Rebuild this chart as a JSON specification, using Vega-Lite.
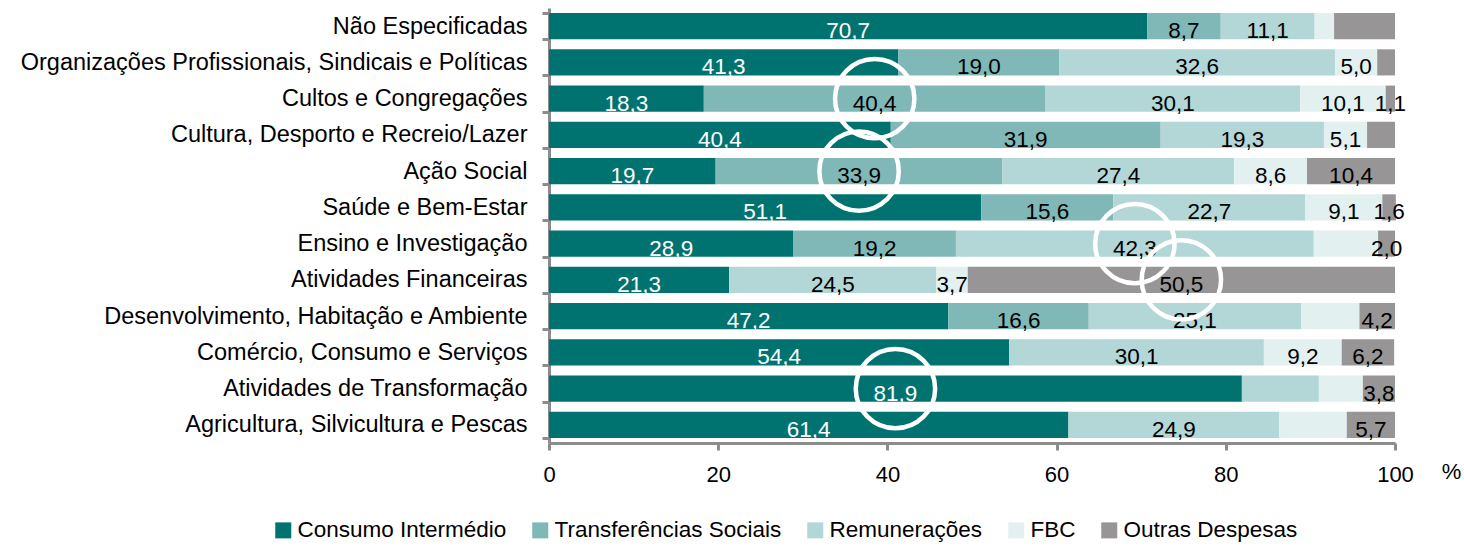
{
  "$schema": "https://vega.github.io/schema/vega-lite/v6.json",
  "width": 846,
  "height": 435,
  "autosize": {"type": "none"},
  "padding": {"left": 549, "top": 8, "right": 69, "bottom": 104},
  "background": "white",
  "config": {
    "view": {"stroke": null},
    "font": "Liberation Sans",
    "text": {"font": "Liberation Sans"}
  },
  "data": {
    "values": [
      {"setor": "Não Especificadas", "cat": "Consumo Intermédio", "valor": 70.7, "rotulo": "70,7", "destaque": false},
      {"setor": "Não Especificadas", "cat": "Transferências Sociais", "valor": 8.7, "rotulo": "8,7", "destaque": false},
      {"setor": "Não Especificadas", "cat": "Remunerações", "valor": 11.1, "rotulo": "11,1", "destaque": false},
      {"setor": "Não Especificadas", "cat": "FBC", "valor": 2.3, "rotulo": "", "destaque": false},
      {"setor": "Não Especificadas", "cat": "Outras Despesas", "valor": 7.2, "rotulo": "", "destaque": false},

      {"setor": "Organizações Profissionais, Sindicais e Políticas", "cat": "Consumo Intermédio", "valor": 41.3, "rotulo": "41,3", "destaque": false},
      {"setor": "Organizações Profissionais, Sindicais e Políticas", "cat": "Transferências Sociais", "valor": 19.0, "rotulo": "19,0", "destaque": false},
      {"setor": "Organizações Profissionais, Sindicais e Políticas", "cat": "Remunerações", "valor": 32.6, "rotulo": "32,6", "destaque": false},
      {"setor": "Organizações Profissionais, Sindicais e Políticas", "cat": "FBC", "valor": 5.0, "rotulo": "5,0", "destaque": false},
      {"setor": "Organizações Profissionais, Sindicais e Políticas", "cat": "Outras Despesas", "valor": 2.1, "rotulo": "", "destaque": false},

      {"setor": "Cultos e Congregações", "cat": "Consumo Intermédio", "valor": 18.3, "rotulo": "18,3", "destaque": false},
      {"setor": "Cultos e Congregações", "cat": "Transferências Sociais", "valor": 40.4, "rotulo": "40,4", "destaque": true},
      {"setor": "Cultos e Congregações", "cat": "Remunerações", "valor": 30.1, "rotulo": "30,1", "destaque": false},
      {"setor": "Cultos e Congregações", "cat": "FBC", "valor": 10.1, "rotulo": "10,1", "destaque": false},
      {"setor": "Cultos e Congregações", "cat": "Outras Despesas", "valor": 1.1, "rotulo": "1,1", "destaque": false},

      {"setor": "Cultura, Desporto e Recreio/Lazer ", "cat": "Consumo Intermédio", "valor": 40.4, "rotulo": "40,4", "destaque": false},
      {"setor": "Cultura, Desporto e Recreio/Lazer ", "cat": "Transferências Sociais", "valor": 31.9, "rotulo": "31,9", "destaque": false},
      {"setor": "Cultura, Desporto e Recreio/Lazer ", "cat": "Remunerações", "valor": 19.3, "rotulo": "19,3", "destaque": false},
      {"setor": "Cultura, Desporto e Recreio/Lazer ", "cat": "FBC", "valor": 5.1, "rotulo": "5,1", "destaque": false},
      {"setor": "Cultura, Desporto e Recreio/Lazer ", "cat": "Outras Despesas", "valor": 3.3, "rotulo": "", "destaque": false},

      {"setor": "Ação Social", "cat": "Consumo Intermédio", "valor": 19.7, "rotulo": "19,7", "destaque": false},
      {"setor": "Ação Social", "cat": "Transferências Sociais", "valor": 33.9, "rotulo": "33,9", "destaque": true},
      {"setor": "Ação Social", "cat": "Remunerações", "valor": 27.4, "rotulo": "27,4", "destaque": false},
      {"setor": "Ação Social", "cat": "FBC", "valor": 8.6, "rotulo": "8,6", "destaque": false},
      {"setor": "Ação Social", "cat": "Outras Despesas", "valor": 10.4, "rotulo": "10,4", "destaque": false},

      {"setor": "Saúde e Bem-Estar", "cat": "Consumo Intermédio", "valor": 51.1, "rotulo": "51,1", "destaque": false},
      {"setor": "Saúde e Bem-Estar", "cat": "Transferências Sociais", "valor": 15.6, "rotulo": "15,6", "destaque": false},
      {"setor": "Saúde e Bem-Estar", "cat": "Remunerações", "valor": 22.7, "rotulo": "22,7", "destaque": false},
      {"setor": "Saúde e Bem-Estar", "cat": "FBC", "valor": 9.1, "rotulo": "9,1", "destaque": false},
      {"setor": "Saúde e Bem-Estar", "cat": "Outras Despesas", "valor": 1.6, "rotulo": "1,6", "destaque": false},

      {"setor": "Ensino e Investigação", "cat": "Consumo Intermédio", "valor": 28.9, "rotulo": "28,9", "destaque": false},
      {"setor": "Ensino e Investigação", "cat": "Transferências Sociais", "valor": 19.2, "rotulo": "19,2", "destaque": false},
      {"setor": "Ensino e Investigação", "cat": "Remunerações", "valor": 42.3, "rotulo": "42,3", "destaque": true},
      {"setor": "Ensino e Investigação", "cat": "FBC", "valor": 7.6, "rotulo": "", "destaque": false},
      {"setor": "Ensino e Investigação", "cat": "Outras Despesas", "valor": 2.0, "rotulo": "2,0", "destaque": false},

      {"setor": "Atividades Financeiras", "cat": "Consumo Intermédio", "valor": 21.3, "rotulo": "21,3", "destaque": false},
      {"setor": "Atividades Financeiras", "cat": "Remunerações", "valor": 24.5, "rotulo": "24,5", "destaque": false},
      {"setor": "Atividades Financeiras", "cat": "FBC", "valor": 3.7, "rotulo": "3,7", "destaque": false},
      {"setor": "Atividades Financeiras", "cat": "Outras Despesas", "valor": 50.5, "rotulo": "50,5", "destaque": true},

      {"setor": "Desenvolvimento, Habitação e Ambiente", "cat": "Consumo Intermédio", "valor": 47.2, "rotulo": "47,2", "destaque": false},
      {"setor": "Desenvolvimento, Habitação e Ambiente", "cat": "Transferências Sociais", "valor": 16.6, "rotulo": "16,6", "destaque": false},
      {"setor": "Desenvolvimento, Habitação e Ambiente", "cat": "Remunerações", "valor": 25.1, "rotulo": "25,1", "destaque": false},
      {"setor": "Desenvolvimento, Habitação e Ambiente", "cat": "FBC", "valor": 6.9, "rotulo": "", "destaque": false},
      {"setor": "Desenvolvimento, Habitação e Ambiente", "cat": "Outras Despesas", "valor": 4.2, "rotulo": "4,2", "destaque": false},

      {"setor": "Comércio, Consumo e Serviços", "cat": "Consumo Intermédio", "valor": 54.4, "rotulo": "54,4", "destaque": false},
      {"setor": "Comércio, Consumo e Serviços", "cat": "Remunerações", "valor": 30.1, "rotulo": "30,1", "destaque": false},
      {"setor": "Comércio, Consumo e Serviços", "cat": "FBC", "valor": 9.2, "rotulo": "9,2", "destaque": false},
      {"setor": "Comércio, Consumo e Serviços", "cat": "Outras Despesas", "valor": 6.2, "rotulo": "6,2", "destaque": false},

      {"setor": "Atividades de Transformação", "cat": "Consumo Intermédio", "valor": 81.9, "rotulo": "81,9", "destaque": true},
      {"setor": "Atividades de Transformação", "cat": "Remunerações", "valor": 9.1, "rotulo": "", "destaque": false},
      {"setor": "Atividades de Transformação", "cat": "FBC", "valor": 5.2, "rotulo": "", "destaque": false},
      {"setor": "Atividades de Transformação", "cat": "Outras Despesas", "valor": 3.8, "rotulo": "3,8", "destaque": false},

      {"setor": "Agricultura, Silvicultura e Pescas", "cat": "Consumo Intermédio", "valor": 61.4, "rotulo": "61,4", "destaque": false},
      {"setor": "Agricultura, Silvicultura e Pescas", "cat": "Remunerações", "valor": 24.9, "rotulo": "24,9", "destaque": false},
      {"setor": "Agricultura, Silvicultura e Pescas", "cat": "FBC", "valor": 8.0, "rotulo": "", "destaque": false},
      {"setor": "Agricultura, Silvicultura e Pescas", "cat": "Outras Despesas", "valor": 5.7, "rotulo": "5,7", "destaque": false}
    ]
  },
  "transform": [
    {"calculate": "indexof(['Consumo Intermédio','Transferências Sociais','Remunerações','FBC','Outras Despesas'], datum.cat)", "as": "ordem"},
    {"stack": "valor", "groupby": ["setor"], "sort": [{"field": "ordem", "order": "ascending"}], "as": ["v0", "v1"]},
    {"calculate": "(datum.v0 + datum.v1) / 2", "as": "meio"}
  ],
  "encoding": {
    "y": {
      "field": "setor",
      "type": "nominal",
      "sort": null,
      "scale": {"paddingInner": 0.28, "paddingOuter": 0.14},
      "axis": {
        "title": null,
        "domainColor": "#8c8c8c",
        "domainWidth": 3,
        "tickColor": "#8c8c8c",
        "tickWidth": 3,
        "tickSize": 7,
        "tickBand": "extent",
        "labelFontSize": 23.5,
        "labelColor": "#000000",
        "labelPadding": 15,
        "labelLimit": 600,
        "labelFont": "Liberation Sans"
      }
    }
  },
  "layer": [
    {
      "mark": {"type": "bar", "stroke": null},
      "encoding": {
        "x": {
          "field": "v0",
          "type": "quantitative",
          "scale": {"domain": [0, 100], "nice": false},
          "axis": {
            "values": [0, 20, 40, 60, 80, 100],
            "grid": false,
            "labelFlush": false,
            "domainColor": "#8c8c8c",
            "domainWidth": 3,
            "tickColor": "#8c8c8c",
            "tickWidth": 3,
            "tickSize": 7,
            "labelFontSize": 22,
            "labelColor": "#000000",
            "labelPadding": 14,
            "labelFont": "Liberation Sans",
            "title": "%",
            "titleFontSize": 22,
            "titleFontWeight": "normal",
            "titleFont": "Liberation Sans",
            "titleColor": "#000000",
            "titleX": 902,
            "titleY": 28,
            "titleAlign": "center",
            "titleBaseline": "middle"
          }
        },
        "x2": {"field": "v1"},
        "color": {
          "field": "cat",
          "type": "nominal",
          "scale": {
            "domain": ["Consumo Intermédio", "Transferências Sociais", "Remunerações", "FBC", "Outras Despesas"],
            "range": ["#007370", "#80b8b8", "#b3d6d6", "#e3f0f0", "#979595"]
          },
          "legend": {
            "title": null,
            "orient": "none",
            "direction": "horizontal",
            "legendX": -277,
            "legendY": 511,
            "symbolType": "square",
            "symbolSize": 256,
            "symbolStrokeWidth": 0,
            "symbolOpacity": 1,
            "labelFontSize": 22.5,
            "labelFont": "Liberation Sans",
            "labelColor": "#000000",
            "labelOffset": 3,
            "columnPadding": 22,
            "labelLimit": 400
          }
        }
      }
    },
    {
      "mark": {"type": "text", "fontSize": 22.5, "baseline": "alphabetic", "dy": 12, "align": "center"},
      "encoding": {
        "x": {"field": "meio", "type": "quantitative"},
        "text": {"field": "rotulo"},
        "color": {
          "condition": {"test": "datum.cat === 'Consumo Intermédio'", "value": "#ffffff"},
          "value": "#000000"
        }
      }
    },
    {
      "transform": [{"filter": "datum.destaque"}],
      "mark": {"type": "point", "shape": "circle", "filled": false, "stroke": "#ffffff", "strokeWidth": 4.5, "size": 6300, "opacity": 1},
      "encoding": {
        "x": {"field": "meio", "type": "quantitative"}
      }
    }
  ]
}
